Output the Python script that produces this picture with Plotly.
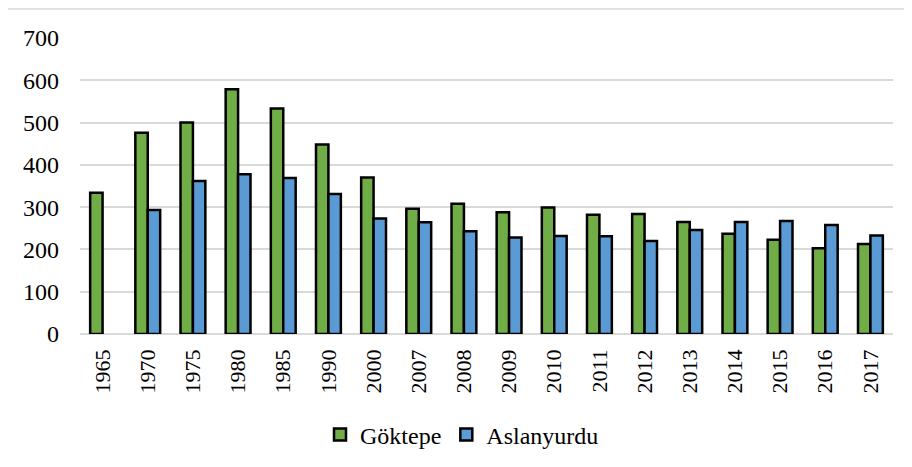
import plotly.graph_objects as go

years = ["1965", "1970", "1975", "1980", "1985", "1990", "2000", "2007", "2008",
         "2009", "2010", "2011", "2012", "2013", "2014", "2015", "2016", "2017"]
goktepe = [334, 476, 500, 579, 533, 448, 370, 296, 308,
           288, 299, 282, 284, 265, 237, 223, 203, 213]
aslanyurdu = [None, 293, 362, 378, 369, 331, 273, 264, 243,
              228, 232, 231, 220, 246, 265, 267, 258, 233]
y_ticks = [0, 100, 200, 300, 400, 500, 600, 700]

FONT = "Liberation Serif"

fig = go.Figure()
fig.add_trace(go.Bar(
    x=years, y=goktepe, name="Göktepe",
    marker=dict(color="#70AD47", line=dict(color="#000000", width=2.5)),
))
fig.add_trace(go.Bar(
    x=years, y=aslanyurdu, name="Aslanyurdu",
    marker=dict(color="#5B9BD5", line=dict(color="#000000", width=2.5)),
))

# page has an 8px body margin: compensate so plot area spans x 80..893, y 38..334
OFF = 8
W, H = 912 - OFF, 467 - OFF
ml, mr, mt, mb = 80 - OFF, 19, 38 - OFF, 133
PX0, PX1, PY0, PY1 = 80, 893, 38, 334

def px_x(x):
    return (x - PX0) / (PX1 - PX0)

def px_y(y):
    return (PY1 - y) / (PY1 - PY0)

fig.update_layout(
    width=W, height=H, autosize=False,
    margin=dict(l=ml, r=mr, t=mt, b=mb, pad=0, autoexpand=False),
    paper_bgcolor="white", plot_bgcolor="white",
    barmode="group", bargap=0.45, bargroupgap=0,
    font=dict(family=FONT, color="#000000"),
    showlegend=True,
    legend=dict(orientation="h", x=px_x(462), xanchor="center",
                y=px_y(435), yanchor="middle",
                font=dict(size=24, family=FONT, color="#000000"),
                itemwidth=30, tracegroupgap=0),
    xaxis=dict(type="category", tickangle=-90, showgrid=False,
               showline=False, zeroline=False,
               tickfont=dict(size=22, family=FONT, color="#000000"),
               ticklabelstandoff=10),
    yaxis=dict(range=[0, 700], tickvals=y_ticks,
               ticktext=[str(v) for v in y_ticks],
               showgrid=True, gridcolor="#d9d9d9", gridwidth=1.5,
               zeroline=True, zerolinecolor="#d9d9d9", zerolinewidth=1.5,
               showline=False,
               tickfont=dict(size=24, family=FONT, color="#000000"),
               ticklabelstandoff=20),
    shapes=[dict(type="rect", xref="paper", yref="paper",
                 x0=px_x(6), x1=px_x(930), y0=px_y(480), y1=px_y(9),
                 line=dict(color="#d9d9d9", width=1.5),
                 fillcolor="rgba(0,0,0,0)", layer="below")],
)

fig.write_html("out.html")
